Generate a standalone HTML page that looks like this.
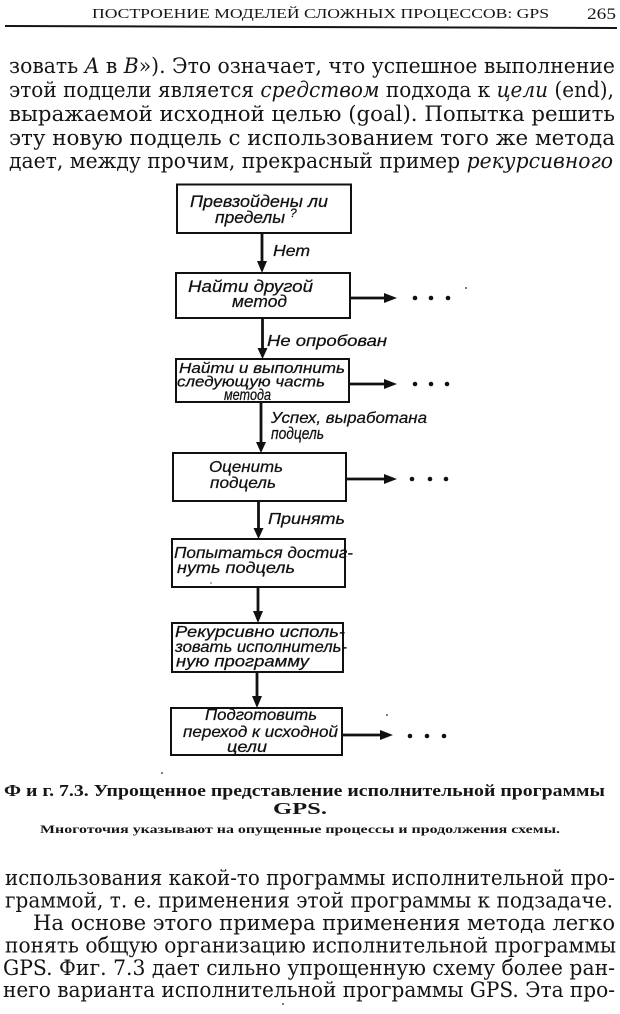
<!DOCTYPE html>
<html>
<head>
<meta charset="utf-8">
<style>
  html,body{margin:0;padding:0;background:#fff;}
  svg{display:block;}
  .body{font-family:"DejaVu Serif","Liberation Serif",serif;font-size:21px;fill:#151515;}
  .it{font-style:italic;}
  .dg{font-family:"Liberation Sans","DejaVu Sans",sans-serif;font-style:italic;fill:#111;stroke:#111;stroke-width:0.25;}
  .cap{font-family:"Liberation Serif",serif;font-weight:bold;fill:#151515;}
</style>
</head>
<body>
<svg width="620" height="1014" viewBox="0 0 620 1014" xmlns="http://www.w3.org/2000/svg">
  <rect x="0" y="0" width="620" height="1014" fill="#fff"/>

  <!-- Header -->
  <text x="92" y="18" textLength="457" lengthAdjust="spacingAndGlyphs" font-family="Liberation Serif, serif" font-size="14" fill="#151515">ПОСТРОЕНИЕ МОДЕЛЕЙ СЛОЖНЫХ ПРОЦЕССОВ: GPS</text>
  <text x="587" y="19" textLength="29" lengthAdjust="spacingAndGlyphs" font-family="Liberation Serif, serif" font-size="15.5" fill="#151515">265</text>
  <line x1="5" y1="26" x2="617" y2="28" stroke="#151515" stroke-width="2"/>

  <!-- Top body text -->
  <text class="body" x="9" y="73" textLength="606" lengthAdjust="spacingAndGlyphs">зовать <tspan class="it">A</tspan> в <tspan class="it">B</tspan>»). Это означает, что успешное выполнение</text>
  <text class="body" x="9" y="97" textLength="605" lengthAdjust="spacingAndGlyphs">этой подцели является <tspan class="it">средством</tspan> подхода к <tspan class="it">цели</tspan> (end),</text>
  <text class="body" x="9" y="121" textLength="606" lengthAdjust="spacingAndGlyphs">выражаемой исходной целью (goal). Попытка решить</text>
  <text class="body" x="9" y="145" textLength="606" lengthAdjust="spacingAndGlyphs">эту новую подцель с использованием того же метода</text>
  <text class="body" x="9" y="168" textLength="604" lengthAdjust="spacingAndGlyphs">дает, между прочим, прекрасный пример <tspan class="it">рекурсивного</tspan></text>

  <!-- Flowchart boxes -->
  <g fill="none" stroke="#111" stroke-width="2">
    <rect x="177" y="184.5" width="174" height="48.5"/>
    <rect x="176" y="273" width="174" height="45"/>
    <rect x="176" y="359" width="173" height="43"/>
    <rect x="173" y="453" width="173" height="48"/>
    <rect x="172" y="539" width="173" height="48"/>
    <rect x="172" y="623" width="171" height="49"/>
    <rect x="171" y="708" width="171" height="47"/>
  </g>

  <!-- Vertical connectors -->
  <g stroke="#111" stroke-width="2.8">
    <line x1="262" y1="233" x2="262" y2="262"/>
    <line x1="262.5" y1="318" x2="262.5" y2="349"/>
    <line x1="261" y1="402" x2="261" y2="443"/>
    <line x1="258.5" y1="501" x2="258.5" y2="529"/>
    <line x1="258" y1="587" x2="258" y2="612"/>
    <line x1="257" y1="672" x2="257" y2="697"/>
  </g>
  <g fill="#111">
    <polygon points="257,261 267,261 262,273"/>
    <polygon points="257.5,348 267.5,348 262.5,359"/>
    <polygon points="256,442 266,442 261,453"/>
    <polygon points="253.5,528 263.5,528 258.5,539"/>
    <polygon points="253,611 263,611 258,623"/>
    <polygon points="252,696 262,696 257,708"/>
  </g>

  <!-- Side arrows -->
  <g stroke="#111" stroke-width="2.8">
    <line x1="350" y1="298" x2="386" y2="298"/>
    <line x1="349" y1="384" x2="386" y2="384"/>
    <line x1="346" y1="479" x2="386" y2="479"/>
    <line x1="342" y1="735" x2="382" y2="735"/>
  </g>
  <g fill="#111">
    <polygon points="384,293 384,303 397,298"/>
    <polygon points="384,379 384,389 397,384"/>
    <polygon points="384,474 384,484 397,479"/>
    <polygon points="380,730 380,740 393,735"/>
    <circle cx="415" cy="298" r="2.3"/><circle cx="431" cy="298" r="2.3"/><circle cx="448" cy="298" r="2.3"/>
    <circle cx="415" cy="384" r="2.3"/><circle cx="431" cy="384" r="2.3"/><circle cx="447" cy="384" r="2.3"/>
    <circle cx="412" cy="479" r="2.3"/><circle cx="430" cy="479" r="2.3"/><circle cx="446" cy="479" r="2.3"/>
    <circle cx="410" cy="736" r="2.3"/><circle cx="427" cy="736" r="2.3"/><circle cx="444" cy="736" r="2.3"/>
  </g>

  <!-- Box texts -->
  <g class="dg" font-size="17">
    <text x="190" y="207" textLength="138" lengthAdjust="spacingAndGlyphs">Превзойдены ли</text>
    <text x="215" y="223" textLength="70" lengthAdjust="spacingAndGlyphs">пределы</text>
    <text x="290" y="217" font-size="12">?</text>

    <text x="188" y="292" textLength="125" lengthAdjust="spacingAndGlyphs">Найти другой</text>
    <text x="232" y="307" textLength="55" lengthAdjust="spacingAndGlyphs">метод</text>
  </g>
  <g class="dg" font-size="14.5">
    <text x="179" y="373" textLength="166" lengthAdjust="spacingAndGlyphs">Найти и выполнить</text>
    <text x="177" y="386.5" textLength="148" lengthAdjust="spacingAndGlyphs">следующую часть</text>
  </g>
  <text class="dg" x="224" y="400" font-size="16" textLength="47" lengthAdjust="spacingAndGlyphs">метода</text>
  <g class="dg" font-size="16">
    <text x="209" y="472" textLength="74" lengthAdjust="spacingAndGlyphs">Оценить</text>
    <text x="210" y="488" textLength="66" lengthAdjust="spacingAndGlyphs">подцель</text>

    <text x="174" y="558" textLength="179" lengthAdjust="spacingAndGlyphs">Попытаться достиг-</text>
    <text x="177" y="573" textLength="118" lengthAdjust="spacingAndGlyphs">нуть подцель</text>

    <text x="175" y="637" textLength="170" lengthAdjust="spacingAndGlyphs">Рекурсивно исполь-</text>
    <text x="175" y="652" textLength="172" lengthAdjust="spacingAndGlyphs">зовать исполнитель-</text>
    <text x="176" y="666.5" textLength="133" lengthAdjust="spacingAndGlyphs">ную программу</text>

    <text x="205" y="720" textLength="112" lengthAdjust="spacingAndGlyphs">Подготовить</text>
    <text x="183" y="737" textLength="155" lengthAdjust="spacingAndGlyphs">переход к исходной</text>
    <text x="227" y="752" textLength="40" lengthAdjust="spacingAndGlyphs">цели</text>
  </g>

  <!-- Connector labels -->
  <g class="dg" font-size="16">
    <text x="273" y="256" textLength="37" lengthAdjust="spacingAndGlyphs">Нет</text>
    <text x="267" y="346" textLength="120" lengthAdjust="spacingAndGlyphs">Не опробован</text>
    <text x="271" y="423" textLength="156" lengthAdjust="spacingAndGlyphs">Успех, выработана</text>
    <text x="268" y="524" textLength="77" lengthAdjust="spacingAndGlyphs">Принять</text>
  </g>
  <text class="dg" x="271" y="439" font-size="17" textLength="53" lengthAdjust="spacingAndGlyphs">подцель</text>

  <!-- specks -->
  <g fill="#555">
    <circle cx="466" cy="288" r="1"/>
    <circle cx="387" cy="715" r="1"/>
    <circle cx="211" cy="583" r="0.8"/>
    <circle cx="162" cy="773" r="1"/>
    <circle cx="283" cy="1004" r="1"/>
  </g>

  <!-- Caption -->
  <text class="cap" x="4" y="796" textLength="601" lengthAdjust="spacingAndGlyphs" font-size="16.5">Ф и г. 7.3. Упрощенное представление исполнительной программы</text>
  <text class="cap" x="273" y="814" textLength="54" lengthAdjust="spacingAndGlyphs" font-size="16.5">GPS.</text>
  <text class="cap" x="40" y="833" textLength="520" lengthAdjust="spacingAndGlyphs" font-size="11.5">Многоточия указывают на опущенные процессы и продолжения схемы.</text>

  <!-- Bottom body text -->
  <text class="body" x="5" y="885" textLength="610" lengthAdjust="spacingAndGlyphs">использования какой-то программы исполнительной про-</text>
  <text class="body" x="5" y="907.5" textLength="608" lengthAdjust="spacingAndGlyphs">граммой, т. е. применения этой программы к подзадаче.</text>
  <text class="body" x="33" y="930" textLength="582" lengthAdjust="spacingAndGlyphs">На основе этого примера применения метода легко</text>
  <text class="body" x="5" y="952.5" textLength="611" lengthAdjust="spacingAndGlyphs">понять общую организацию исполнительной программы</text>
  <text class="body" x="3" y="975" textLength="612" lengthAdjust="spacingAndGlyphs">GPS. Фиг. 7.3 дает сильно упрощенную схему более ран-</text>
  <text class="body" x="3" y="997" textLength="612" lengthAdjust="spacingAndGlyphs">него варианта исполнительной программы GPS. Эта про-</text>
</svg>
</body>
</html>
